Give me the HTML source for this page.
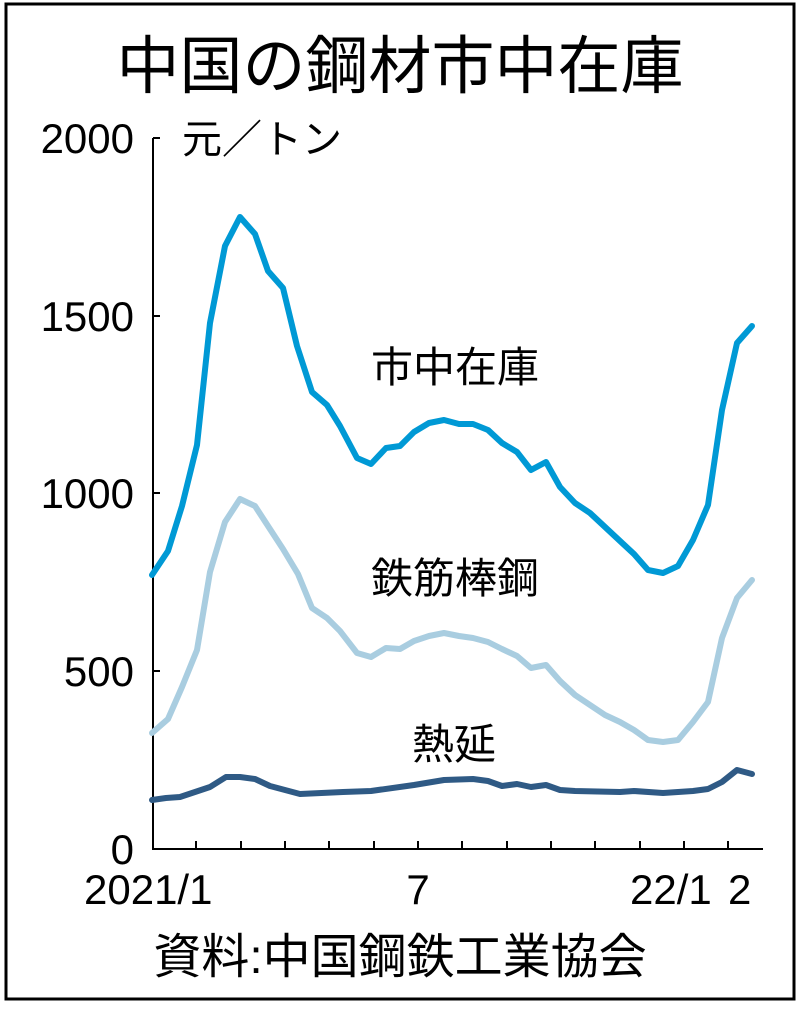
<!DOCTYPE html>
<html><head><meta charset="utf-8"><style>
html,body{margin:0;padding:0;background:#fff;}
</style></head><body>
<svg width="800" height="1005" viewBox="0 0 800 1005" xmlns="http://www.w3.org/2000/svg" font-family="'Liberation Sans','Noto Sans CJK JP',sans-serif">
<rect x="6" y="4" width="788" height="995" fill="#fff" stroke="#000" stroke-width="3"/>
<text x="400" y="88" font-size="63" text-anchor="middle" fill="#000">中国の鋼材市中在庫</text>
<g font-size="42" text-anchor="end" fill="#000">
<text x="134" y="153">2000</text>
<text x="134" y="331">1500</text>
<text x="134" y="508">1000</text>
<text x="134" y="686">500</text>
<text x="134" y="864">0</text>
</g>
<text x="182" y="153" font-size="40">元／トン</text>
<g stroke="#000" stroke-width="2" fill="none">
<line x1="153" y1="138" x2="153" y2="849"/>
<line x1="152" y1="849" x2="763" y2="849"/>
<line x1="153" y1="138" x2="160" y2="138"/>
<line x1="153" y1="316" x2="160" y2="316"/>
<line x1="153" y1="493" x2="160" y2="493"/>
<line x1="153" y1="671" x2="160" y2="671"/>
<path d="M196 849v-8M241 849v-8M285 849v-8M329 849v-8M374 849v-8M418 849v-8M462 849v-8M507 849v-8M551 849v-8M595 849v-8M640 849v-8M684 849v-8M728 849v-8"/>
</g>
<g fill="none" stroke-width="6" stroke-linejoin="round" stroke-linecap="round">
<polyline stroke="#0099d5" points="152,575 168,551 182,506 197,445 210,323 225,246 240,217 255,234 268,271 283,288 297,346 312,392 327,405 340,426 357,458 371,464 386,448 400,446 414,432 429,423 444,420 459,424 473,424 488,430 502,443 517,452 531,470 546,462 560,487 575,503 590,513 605,527 620,541 634,554 648,570 663,573 678,566 693,540 708,505 722,410 737,343 752,326"/>
<polyline stroke="#a9cde0" points="152,733 168,719 182,687 197,650 210,572 225,522 240,499 255,506 268,526 283,549 298,574 312,608 327,618 340,631 357,653 371,657 386,648 400,649 414,641 429,636 444,633 459,636 473,638 488,642 502,649 517,656 531,668 546,665 560,681 575,695 590,705 605,715 620,722 634,730 648,740 663,742 678,740 693,722 708,702 722,638 737,598 752,580"/>
<polyline stroke="#2f5a85" points="152,800 166,798 180,797 195,792 210,787 226,777 240,777 255,779 270,786 285,790 300,794 343,792 371,791 414,785 444,780 473,779 488,781 502,786 517,784 531,787 546,785 560,790 575,791 620,792 634,791 663,793 693,791 708,789 722,782 737,770 752,774"/>
</g>
<g font-size="42" fill="#000">
<text x="371" y="382">市中在庫</text>
<text x="371" y="593">鉄筋棒鋼</text>
<text x="412" y="759">熱延</text>
</g>
<g font-size="42" fill="#000">
<text x="84" y="904">2021/1</text>
<text x="418" y="904" text-anchor="middle">7</text>
<text x="630" y="904">22/1</text>
<text x="728" y="904">2</text>
</g>
<text x="400" y="973" font-size="48" text-anchor="middle" fill="#000">資料:中国鋼鉄工業協会</text>
</svg>
</body></html>
